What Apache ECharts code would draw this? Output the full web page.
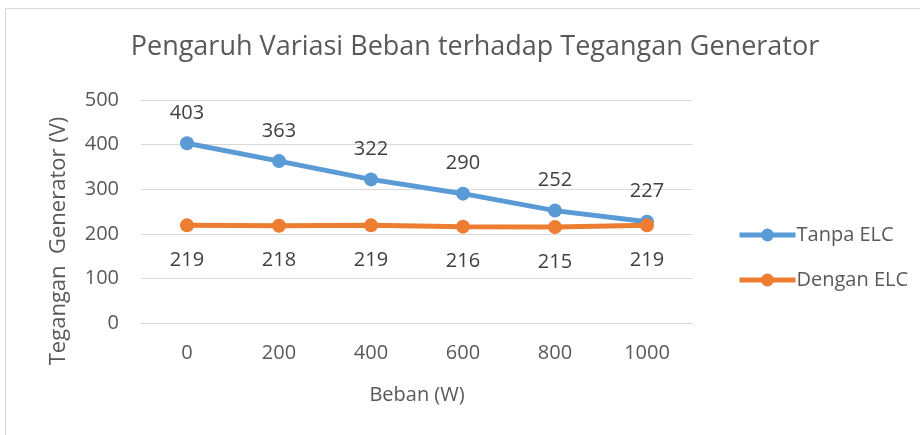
<!DOCTYPE html>
<html>
<head>
<meta charset="utf-8">
<script src="https://cdn.jsdelivr.net/npm/echarts@6/dist/echarts.min.js"></script>
<style>
  html, body { margin: 0; padding: 0; background: #fff; }
  #chart { width: 920px; height: 435px; }
</style>
</head>
<body>
<div id="chart"></div>
<script>
// data
var beban = ['0', '200', '400', '600', '800', '1000'];
var tanpaElc = [403, 363, 322, 290, 252, 227];
var denganElc = [219, 218, 219, 216, 215, 219];

var chartDom = document.getElementById('chart');
var myChart = echarts.init(chartDom);
var font = 'Open Sans';

var option = {
  animation: false,
  textStyle: { fontFamily: font },
  title: {
    text: 'Pengaruh Variasi Beban terhadap Tegangan Generator',
    left: 470,
    top: 29,
    textAlign: 'center',
    textStyle: { fontFamily: font, fontSize: 27, fontWeight: 'normal', color: '#595959' }
  },
  graphic: [
    {
      // chart frame
      type: 'rect',
      shape: { x: 5.5, y: 8.5, width: 930, height: 440 },
      style: { fill: 'none', stroke: '#d9d9d9', lineWidth: 1 },
      silent: true
    },
    {
      type: 'text',
      x: 59,
      y: 241,
      rotation: Math.PI / 2,
      style: {
        text: 'Tegangan  Generator (V)',
        fontFamily: font,
        fontSize: 22,
        fill: '#595959',
        textAlign: 'center',
        textVerticalAlign: 'middle'
      }
    }
  ],
  legend: {
    orient: 'vertical',
    left: 732,
    top: 220,
    itemGap: 25,
    itemWidth: 56,
    itemHeight: 16,
    lineStyle: { width: 5 },
    textStyle: { fontFamily: font, fontSize: 20, color: '#595959', padding: [0, 0, 0, -4] },
    data: ['Tanpa ELC', 'Dengan ELC']
  },
  grid: { left: 141, right: 227, top: 100, bottom: 112 },
  xAxis: {
    type: 'category',
    data: beban,
    name: 'Beban (W)',
    nameLocation: 'middle',
    nameGap: 62,
    nameTextStyle: { fontFamily: font, fontSize: 20, color: '#595959' },
    axisLine: { lineStyle: { color: '#d9d9d9' } },
    axisTick: { show: false },
    axisLabel: { fontFamily: font, fontSize: 20, color: '#595959', margin: 20 }
  },
  yAxis: {
    type: 'value',
    min: 0,
    max: 500,
    interval: 100,
    axisLine: { show: false },
    axisTick: { show: false },
    axisLabel: { fontFamily: font, fontSize: 20, color: '#595959', margin: 22 },
    splitLine: { lineStyle: { color: '#d9d9d9', width: 1 } }
  },
  series: [
    {
      name: 'Tanpa ELC',
      type: 'line',
      data: tanpaElc,
      color: '#5B9BD5',
      symbol: 'circle',
      symbolSize: 14,
      lineStyle: { width: 5 },
      label: {
        show: true,
        position: 'top',
        distance: 13,
        fontFamily: font,
        fontSize: 20,
        color: '#404040'
      }
    },
    {
      name: 'Dengan ELC',
      type: 'line',
      data: denganElc,
      color: '#ED7D31',
      symbol: 'circle',
      symbolSize: 14,
      lineStyle: { width: 5 },
      label: {
        show: true,
        position: 'bottom',
        distance: 18,
        fontFamily: font,
        fontSize: 20,
        color: '#404040'
      }
    }
  ]
};

option && myChart.setOption(option);
</script>
</body>
</html>
